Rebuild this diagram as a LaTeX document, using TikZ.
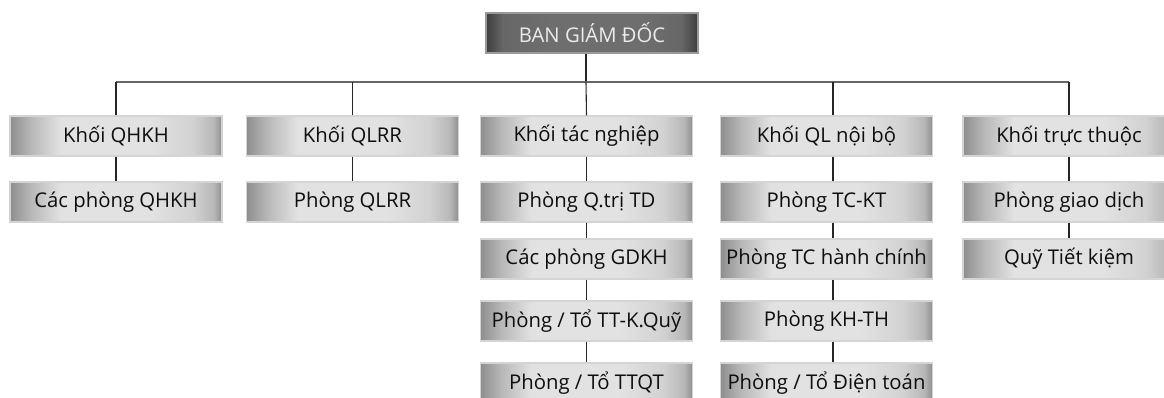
\documentclass[tikz,border=0pt]{standalone}
\usepackage{fontspec}
\setmainfont{Open Sans}
\usetikzlibrary{calc}

% metallic fills for the unit boxes
\definecolor{edgeL}{HTML}{8E8E8E}
\definecolor{edgeM}{HTML}{B8B8B8}
\definecolor{faceL}{HTML}{E2E2E2}
\definecolor{faceR}{HTML}{D2D2D2}
\definecolor{rimL}{HTML}{D4D4D4}
\pgfdeclarehorizontalshading{steel}{100bp}{%
  color(0bp)=(edgeL); color(25bp)=(edgeL); color(30bp)=(edgeM);
  color(37bp)=(faceL); color(58bp)=(faceL); color(68bp)=(faceR);
  color(73bp)=(edgeM); color(75bp)=(edgeL); color(100bp)=(edgeL)}

% darker fill for the board of directors
\definecolor{darkL}{HTML}{3E3E3E}
\definecolor{darkM}{HTML}{676767}
\definecolor{darkF}{HTML}{6E6E6E}
\definecolor{rimD}{HTML}{9A9A9A}
\pgfdeclarehorizontalshading{darksteel}{100bp}{%
  color(0bp)=(darkL); color(25bp)=(darkL); color(29bp)=(darkM);
  color(40bp)=(darkF); color(62bp)=(darkF); color(71bp)=(darkM);
  color(75bp)=(darkL); color(100bp)=(darkL)}

\definecolor{linkC}{HTML}{262626}
\definecolor{busC}{HTML}{666666}
\definecolor{textC}{HTML}{0E0E0E}

\tikzset{
  unitbox/.style={rectangle, minimum width=212pt, minimum height=40pt,
    inner sep=0pt, shading=steel, draw=rimL, line width=1.2pt,
    text=textC, font=\fontsize{20.3}{24}\selectfont},
  headbox/.style={unitbox, shading=darksteel, draw=rimD, text=white!92!black},
  link/.style={draw=linkC, line width=1.1pt},
  busline/.style={draw=busC, line width=1.5pt}
}

\begin{document}
\begin{tikzpicture}[x=1pt, y=-1pt]
  \useasboundingbox (0,0) rectangle (1164,398);
  \clip (0,0) rectangle (1164,398);

  % junction points of the lines
  \coordinate (bus) at (586,82);
  \coordinate (trunk4) at (833,0);

  % board of directors
  \node[headbox] (top) at (592,33) {BAN GIÁM ĐỐC};

  % divisions
  \node[unitbox] (k1) at (116,136)   {Khối QHKH};
  \node[unitbox] (k2) at (352.5,136) {Khối QLRR};
  \node[unitbox] (k3) at (586.5,136) {Khối tác nghiệp};
  \node[unitbox] (k4) at (826.5,136) {Khối QL nội bộ};
  \node[unitbox] (k5) at (1069,136)  {Khối trực thuộc};

  % departments
  \node[unitbox] (a1) at (116,202)   {Các phòng QHKH};
  \node[unitbox] (a2) at (352.5,202) {Phòng QLRR};

  \node[unitbox] (b1) at (586.5,202) {Phòng Q.trị TD};
  \node[unitbox] (b2) at (586.5,259) {Các phòng GDKH};
  \node[unitbox] (b3) at (586.5,321) {Phòng / Tổ TT-K.Quỹ};
  \node[unitbox] (b4) at (586.5,383) {Phòng / Tổ TTQT};

  \node[unitbox] (c1) at (826.5,202) {Phòng TC-KT};
  \node[unitbox] (c2) at (826.5,259) {Phòng TC hành chính};
  \node[unitbox] (c3) at (826.5,321) {Phòng KH-TH};
  \node[unitbox] (c4) at (826.5,383) {Phòng / Tổ Điện toán};

  \node[unitbox] (d1) at (1069,202)  {Phòng giao dịch};
  \node[unitbox] (d2) at (1069,259)  {Quỹ Tiết kiệm};

  % board of directors down to the bus
  \draw[link] (bus |- top.south) -- (bus);

  % bus joining the five divisions
  \draw[busline] (k1.north |- bus) -- (k5.north |- bus);
  \draw[link] (k1.north |- bus) -- (k1.north);
  \draw[link] (k2.north |- bus) -- (k2.north);
  \draw[link] (bus) -- (k3.north);
  \draw[link] (trunk4 |- bus) -- (trunk4 |- k4.north);
  \draw[link] (k5.north |- bus) -- (k5.north);

  % links inside each division
  \draw[link] (k1.south) -- (a1.north);
  \draw[link] (k2.south) -- (a2.north);

  \draw[link] (k3.south) -- (b1.north);
  \draw[link] (b1.south) -- (b2.north);
  \draw[link] (b2.south) -- (b3.north);
  \draw[link] (b3.south) -- (b4.north);

  \draw[link] (trunk4 |- k4.south) -- (trunk4 |- c1.north);
  \draw[link] (trunk4 |- c1.south) -- (trunk4 |- c2.north);
  \draw[link] (trunk4 |- c2.south) -- (trunk4 |- c3.north);
  \draw[link] (trunk4 |- c3.south) -- (trunk4 |- c4.north);

  \draw[link] (k5.south) -- (d1.north);
  \draw[link] (d1.south) -- (d2.north);
\end{tikzpicture}
\end{document}
